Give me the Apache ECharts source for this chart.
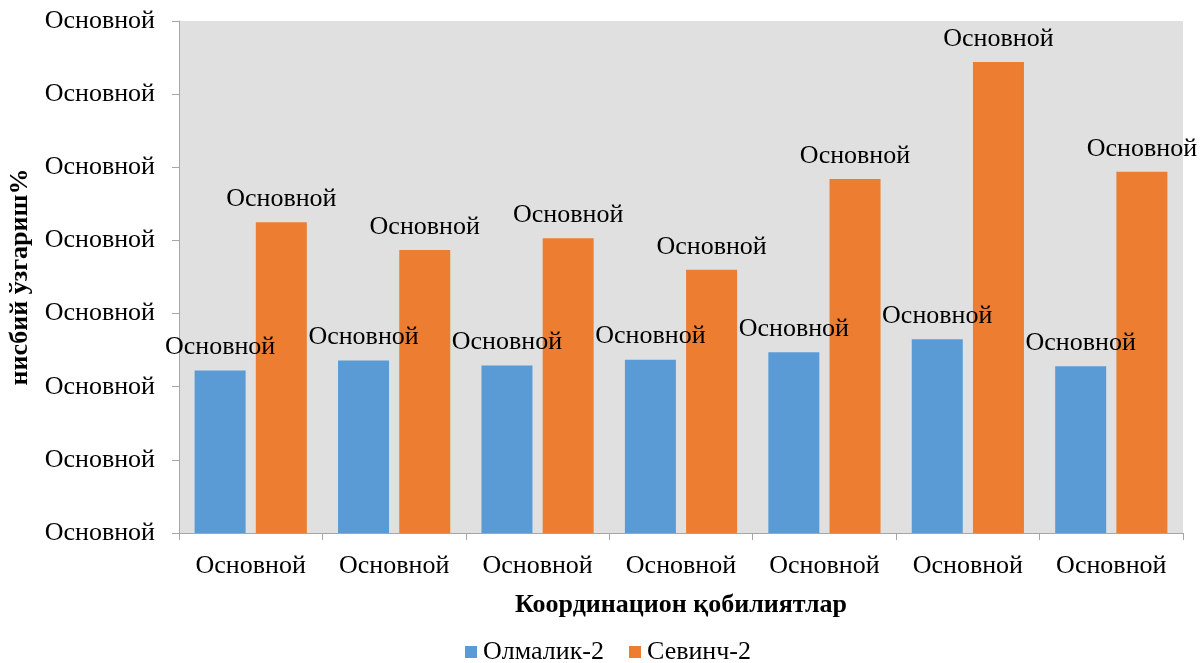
<!DOCTYPE html>
<html>
<head>
<meta charset="utf-8">
<script src="https://cdn.jsdelivr.net/npm/echarts@6/dist/echarts.min.js"></script>
<style>html,body{margin:0;padding:0;background:#fff}#c{width:1201px;height:663px}</style>
</head>
<body>
<div id="c"></div>
<script>
const categories = ['Основной','Основной','Основной','Основной','Основной','Основной','Основной'];
const olmalik = [2.22, 2.36, 2.29, 2.37, 2.47, 2.65, 2.28];
const sevinch = [4.25, 3.87, 4.03, 3.60, 4.84, 6.44, 4.94];
const tickLabel = 'Основной';
const dataLabel = 'Основной';
const seriesNames = ['Олмалик-2', 'Севинч-2'];
const xTitle = 'Координацион қобилиятлар';
const yTitle = 'нисбий ўзгариш%';

const FONT = 'Liberation Serif';
const FS = 26;
const chart = echarts.init(document.getElementById('c'));
const labelCfg = {
  show: true, position: 'top', distance: 10,
  formatter: () => dataLabel,
  fontFamily: FONT, fontSize: FS, color: '#000'
};
chart.setOption({
  animation: false,
  textStyle: { fontFamily: FONT },
  grid: { left: 179, top: 21, right: 18, bottom: 130, show: true, backgroundColor: '#E0E0E0', borderWidth: 0,
          containLabel: false, outerBoundsMode: 'none' },
  legend: {
    top: 639, left: 465, padding: 0, itemWidth: 12, itemHeight: 12, itemGap: 25,
    icon: 'rect',
    textStyle: { fontFamily: FONT, fontSize: FS, color: '#000', padding: [0, 0, 0, 1] },
    data: seriesNames
  },
  xAxis: {
    type: 'category', data: categories,
    name: xTitle, nameLocation: 'middle', nameGap: 59,
    nameTextStyle: { fontFamily: FONT, fontSize: FS, fontWeight: 'bold', color: '#000' },
    axisLine: { lineStyle: { color: '#A6A6A6', width: 1 } },
    axisTick: { show: true, length: 7, interval: 0, lineStyle: { color: '#A6A6A6' } },
    axisLabel: { fontFamily: FONT, fontSize: FS, color: '#000', margin: 20, interval: 0 }
  },
  yAxis: {
    type: 'value', min: 0, max: 7, interval: 1,
    name: yTitle, nameLocation: 'middle', nameRotate: 90, nameGap: 138,
    nameTextStyle: { fontFamily: FONT, fontSize: FS, fontWeight: 'bold', color: '#000' },
    axisLine: { show: true, lineStyle: { color: '#A6A6A6', width: 1 } },
    axisTick: { show: true, length: 7, lineStyle: { color: '#A6A6A6' } },
    splitLine: { show: false },
    axisLabel: { fontFamily: FONT, fontSize: FS, color: '#000', margin: 24, formatter: () => tickLabel }
  },
  series: [
    { name: seriesNames[0], type: 'bar', data: olmalik, barWidth: 51, barGap: '20%',
      itemStyle: { color: '#5B9BD5' }, label: labelCfg },
    { name: seriesNames[1], type: 'bar', data: sevinch, barWidth: 51, barGap: '20%',
      itemStyle: { color: '#ED7D31' }, label: labelCfg }
  ]
});
</script>
</body>
</html>
